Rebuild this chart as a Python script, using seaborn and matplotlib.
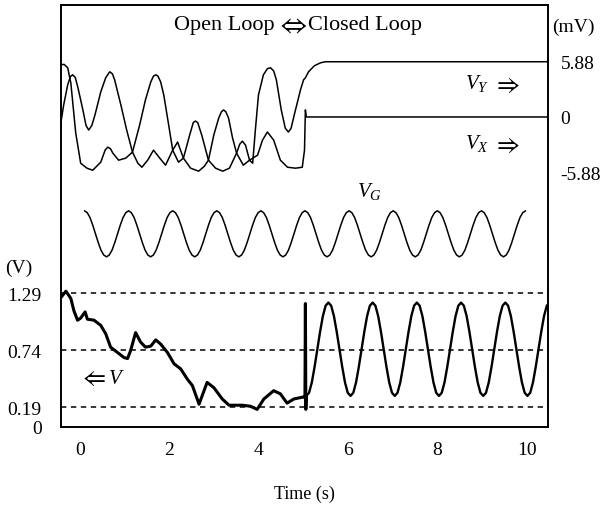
import matplotlib

matplotlib.use("Agg")
import matplotlib.pyplot as plt
import numpy as np
import seaborn as sns

# V_Y trace in mV (open loop, then settles at +5.88 mV)
vy_t = [-0.42, -0.35, -0.27, -0.20, -0.09, 0.02, 0.16, 0.29, 0.47, 0.57, 0.63, 0.69,
        0.74, 0.87, 1.03, 1.18, 1.34, 1.47, 1.59, 1.65, 1.70, 1.75, 1.81, 1.88,
        1.99, 2.08, 2.21, 2.32, 2.46, 2.54, 2.59, 2.64, 2.73, 2.88, 3.04, 3.20,
        3.35, 3.51, 3.58, 3.64, 3.71, 3.80, 3.87, 3.93, 4.00, 4.11, 4.20, 4.27,
        4.34, 4.40, 4.51, 4.60, 4.67, 4.73, 4.80, 4.94, 5.01, 5.05, 5.12, 5.25,
        5.39, 5.50, 10.48]
vy_mv = [5.56, 5.60, 5.24, 3.63, -1.71, -4.92, -5.45, -5.67, -4.81, -3.50, -3.21, -3.40,
         -3.85, -4.60, -4.38, -3.74, -0.86, 1.82, 3.74, 4.35, 4.49, 4.35, 3.74, 2.35,
         -0.86, -3.53, -4.81, -4.38, -1.92, -0.60, -0.43, -0.60, -1.92, -4.60, -5.45, -5.77,
         -5.45, -3.85, -2.90, -2.57, -3.00, -4.60, -4.92, -1.39, 2.35, 4.49, 5.15, 5.24,
         4.90, 3.96, 0.75, -1.20, -1.60, -1.20, 0.21, 2.89, 3.96, 4.17, 4.81, 5.45,
         5.77, 5.88, 5.88]

# V_X trace in mV (open loop, then settles at 0 mV)
vx_t = [-0.42, -0.36, -0.27, -0.21, -0.16, -0.10, -0.04, 0.07, 0.14, 0.20, 0.27, 0.34,
        0.47, 0.58, 0.67, 0.73, 0.78, 0.92, 1.05, 1.18, 1.30, 1.39, 1.52, 1.65,
        1.79, 1.92, 2.08, 2.19, 2.32, 2.48, 2.66, 2.79, 2.88, 3.00, 3.11, 3.17,
        3.22, 3.27, 3.33, 3.42, 3.51, 3.66, 3.80, 3.98, 4.09, 4.20, 4.34, 4.49,
        4.65, 4.83, 4.98, 5.03, 5.05, 5.07, 10.48]
vx_mv = [-0.53, 1.28, 3.42, 4.30, 4.49, 4.20, 3.10, 0.75, -0.90, -1.39, -0.90, 0.21,
         2.67, 4.17, 4.81, 4.60, 3.96, 1.28, -1.39, -3.74, -4.92, -5.35, -4.60, -3.53,
         -4.38, -5.13, -3.53, -2.67, -4.38, -5.45, -5.77, -5.24, -4.60, -1.92, -0.11, 0.55,
         0.75, 0.55, -0.11, -2.24, -3.85, -5.13, -4.60, -4.06, -2.46, -1.60, -2.46, -4.60,
         -5.35, -5.45, -5.35, -3.53, 0.75, 0.0, 0.0]

# V_G drive signal (normalised), one sample every VG_DT seconds
vg_level = [
    1.0, 0.92, 0.71, 0.38, 0.0, -0.38, -0.71, -0.92, -1.0, -0.92, -0.71, -0.38, 0.0, 0.38, 0.71, 0.92,
    1.0, 0.92, 0.71, 0.38, 0.0, -0.38, -0.71, -0.92, -1.0, -0.92, -0.71, -0.38, 0.0, 0.38, 0.71, 0.92,
    1.0, 0.92, 0.71, 0.38, 0.0, -0.38, -0.71, -0.92, -1.0, -0.92, -0.71, -0.38, 0.0, 0.38, 0.71, 0.92,
    1.0, 0.92, 0.71, 0.38, 0.0, -0.38, -0.71, -0.92, -1.0, -0.92, -0.71, -0.38, 0.0, 0.38, 0.71, 0.92,
    1.0, 0.92, 0.71, 0.38, 0.0, -0.38, -0.71, -0.92, -1.0, -0.92, -0.71, -0.38, 0.0, 0.38, 0.71, 0.92,
    1.0, 0.92, 0.71, 0.38, 0.0, -0.38, -0.71, -0.92, -1.0, -0.92, -0.71, -0.38, 0.0, 0.38, 0.71, 0.92,
    1.0, 0.92, 0.71, 0.38, 0.0, -0.38, -0.71, -0.92, -1.0, -0.92, -0.71, -0.38, 0.0, 0.38, 0.71, 0.92,
    1.0, 0.92, 0.71, 0.38, 0.0, -0.38, -0.71, -0.92, -1.0, -0.92, -0.71, -0.38, 0.0, 0.38, 0.71, 0.92,
    1.0, 0.92, 0.71, 0.38, 0.0, -0.38, -0.71, -0.92, -1.0, -0.92, -0.71, -0.38, 0.0, 0.38, 0.71, 0.92,
    1.0, 0.92, 0.71, 0.38, 0.0, -0.38, -0.71, -0.92, -1.0, -0.92, -0.71, -0.38, 0.0, 0.38, 0.71, 0.92,
    1.0,
]

# V in volts, open loop (ends with the switching spike)
v_open_t = [-0.42, -0.31, -0.20, -0.13, -0.05, 0.02, 0.12, 0.17, 0.32, 0.47, 0.58, 0.69,
            0.84, 0.99, 1.07, 1.14, 1.25, 1.36, 1.47, 1.59, 1.70, 1.81, 1.96, 2.11,
            2.26, 2.41, 2.52, 2.67, 2.85, 3.00, 3.19, 3.34, 3.64, 3.82, 3.97, 4.12,
            4.34, 4.49, 4.64, 4.79, 5.01, 5.04, 5.05, 5.06, 5.07]
v_open = [1.25, 1.31, 1.24, 1.12, 1.03, 1.05, 1.11, 1.04, 1.03, 0.98, 0.90, 0.77,
          0.72, 0.67, 0.66, 0.74, 0.91, 0.82, 0.77, 0.78, 0.84, 0.80, 0.72, 0.61,
          0.56, 0.46, 0.40, 0.22, 0.43, 0.38, 0.27, 0.21, 0.21, 0.20, 0.17, 0.27,
          0.35, 0.32, 0.23, 0.27, 0.29, 0.28, 1.19, 0.17, 0.30]

# V in volts, closed loop, one sample every CL_DT seconds
v_closed = [
    0.30, 0.33, 0.43, 0.58, 0.75, 0.92, 1.07, 1.17, 1.20, 1.17, 1.07, 0.92, 0.75, 0.58, 0.43, 0.33,
    0.30, 0.33, 0.43, 0.58, 0.75, 0.92, 1.07, 1.17, 1.20, 1.17, 1.07, 0.92, 0.75, 0.58, 0.43, 0.33,
    0.30, 0.33, 0.43, 0.58, 0.75, 0.92, 1.07, 1.17, 1.20, 1.17, 1.07, 0.92, 0.75, 0.58, 0.43, 0.33,
    0.30, 0.33, 0.43, 0.58, 0.75, 0.92, 1.07, 1.17, 1.20, 1.17, 1.07, 0.92, 0.75, 0.58, 0.43, 0.33,
    0.30, 0.33, 0.43, 0.58, 0.75, 0.92, 1.07, 1.17, 1.20, 1.17, 1.07, 0.92, 0.75, 0.58, 0.43, 0.33,
    0.30, 0.33, 0.43, 0.58, 0.75, 0.92, 1.07, 1.17, 1.20,
]

v_ticks = [0, 0.19, 0.74, 1.29]
v_ref_lines = [0.19, 0.74, 1.29]
mv_ticks = [5.88, 0, -5.88]
x_ticks = [0, 2, 4, 6, 8, 10]

# placement of the mV traces and of V_G on the shared vertical scale
MV_ZERO, MV_SCALE = 2.99, 0.0906
VG_MID, VG_AMP = 1.863, 0.222
VG_T0, VG_DT = 0.105, 0.0617
CL_T0, CL_DT = 5.07, 0.061875

sns.set_theme(style="white")
plt.rcParams["font.family"] = ["Liberation Serif", "DejaVu Serif"]
plt.rcParams["mathtext.fontset"] = "custom"
plt.rcParams["mathtext.rm"] = "Liberation Serif"
plt.rcParams["mathtext.it"] = "Liberation Serif:italic"

fig = plt.figure(figsize=(6.06, 5.10), dpi=100)
ax = fig.add_axes([61 / 606, 82 / 510, 487 / 606, 422 / 510])
ax.set_xlim(-0.42, 10.48)
ax.set_ylim(0, 4.07)

for lvl in v_ref_lines:
    ax.axhline(lvl, color="black", lw=1.1, dashes=(3.5, 3.0))

vy = MV_ZERO + np.array(vy_mv) * MV_SCALE
vx = MV_ZERO + np.array(vx_mv) * MV_SCALE
vg_t = VG_T0 + VG_DT * np.arange(len(vg_level))
vg = VG_MID + VG_AMP * np.array(vg_level)
cl_t = CL_T0 + CL_DT * np.arange(len(v_closed))

line_kw = dict(ax=ax, color="black", sort=False, estimator=None, legend=False)
sns.lineplot(x=vy_t, y=vy, lw=1.1, **line_kw)
sns.lineplot(x=vx_t, y=vx, lw=1.1, **line_kw)
sns.lineplot(x=vg_t, y=vg, lw=1.1, **line_kw)
sns.lineplot(x=v_open_t, y=v_open, lw=2.2, **line_kw)
sns.lineplot(x=cl_t, y=v_closed, lw=1.7, **line_kw)

for s in ax.spines.values():
    s.set_color("black")
    s.set_linewidth(1.4)

ax.set_xticks(x_ticks)
ax.set_xticklabels([str(t) for t in x_ticks])
ax.set_yticks(v_ticks)
ax.set_yticklabels(["0", "0.19", "0.74", "1.29"])
ax.tick_params(axis="both", length=0, labelsize=14, colors="black")
ax.tick_params(axis="x", pad=10)
ax.tick_params(axis="y", pad=14)
ax.set_xlabel("Time (s)", fontsize=13, color="black", labelpad=19)
ax.set_ylabel("")

ax2 = ax.twinx()
ax2.set_ylim(ax.get_ylim())
ax2.set_yticks([MV_ZERO + m * MV_SCALE for m in mv_ticks])
ax2.set_yticklabels(["5.88", "0", "-5.88"])
ax2.tick_params(axis="y", length=0, labelsize=14, colors="black", pad=9)
for s in ax2.spines.values():
    s.set_visible(False)

txt = dict(color="black", va="center")
arrow = dict(color="black", va="center", ha="center", math_fontfamily="stix")
ax.text(4.36, 3.88, "Open Loop", ha="right", fontsize=16, **txt)
ax.text(4.74, 3.88, r"$\Leftrightarrow$", fontsize=20, **arrow)
ax.text(5.11, 3.88, "Closed Loop", ha="left", fontsize=16, **txt)
ax.text(8.62, 3.32, r"$V_Y$", ha="left", fontsize=15, **txt)
ax.text(9.55, 3.30, r"$\Rightarrow$", fontsize=18, **arrow)
ax.text(8.62, 2.74, r"$V_X$", ha="left", fontsize=15, **txt)
ax.text(9.55, 2.72, r"$\Rightarrow$", fontsize=18, **arrow)
ax.text(6.2, 2.28, r"$V_G$", ha="left", fontsize=15, **txt)
ax.text(0.28, 0.47, r"$\Leftarrow$", fontsize=18, **arrow)
ax.text(0.64, 0.47, r"$V$", ha="left", fontsize=15, **txt)
fig.text(5 / 606, 1 - 268 / 510, "(V)", fontsize=14, color="black", va="center")
fig.text(552 / 606, 1 - 27 / 510, "(mV)", fontsize=14, color="black", va="center")

fig.savefig("out.png", dpi=100)
plt.close(fig)
